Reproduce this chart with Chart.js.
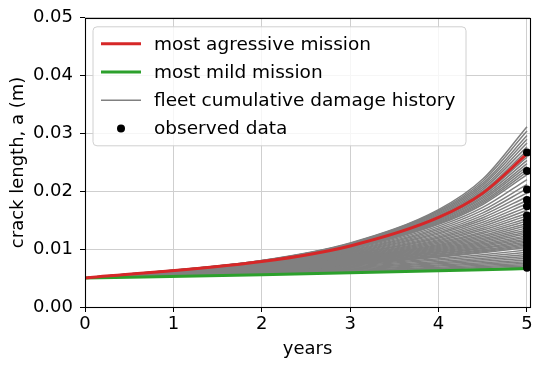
<!DOCTYPE html>
<html><head><meta charset="utf-8">
<script src="https://cdn.jsdelivr.net/npm/chart.js@4.4.0/dist/chart.umd.min.js"></script>
<style>html,body{margin:0;padding:0;background:#fff;} canvas{display:block;}</style>
</head><body>
<canvas id="c" width="544" height="368"></canvas>
<script>
const years = [0, 2, 3, 4, 4.5, 5];
const aggressiveMission = [0.00502, 0.00785, 0.01056, 0.01548, 0.01969, 0.02647];
const mildMission = [0.00502, 0.00558, 0.00590, 0.00625, 0.00644, 0.00664];
const fleetHistories = [
  [0.00502,0.00805,0.01107,0.01684,0.02212,0.03118],
  [0.00502,0.00802,0.01100,0.01664,0.02175,0.03041],
  [0.00502,0.00799,0.01092,0.01643,0.02137,0.02964],
  [0.00502,0.00796,0.01085,0.01622,0.02102,0.02899],
  [0.00502,0.00794,0.01077,0.01603,0.02068,0.02834],
  [0.00502,0.00791,0.01070,0.01585,0.02035,0.02768],
  [0.00502,0.00788,0.01063,0.01566,0.02002,0.02703],
  [0.00502,0.00782,0.01050,0.01529,0.01940,0.02592],
  [0.00502,0.00779,0.01043,0.01512,0.01910,0.02536],
  [0.00502,0.00777,0.01036,0.01495,0.01881,0.02480],
  [0.00502,0.00774,0.01029,0.01478,0.01852,0.02432],
  [0.00502,0.00772,0.01023,0.01461,0.01825,0.02384],
  [0.00502,0.00769,0.01016,0.01444,0.01799,0.02336],
  [0.00502,0.00766,0.01010,0.01429,0.01772,0.02288],
  [0.00502,0.00761,0.00997,0.01398,0.01721,0.02204],
  [0.00502,0.00756,0.00984,0.01368,0.01674,0.02120],
  [0.00502,0.00751,0.00972,0.01340,0.01627,0.02046],
  [0.00502,0.00746,0.00961,0.01312,0.01585,0.01972],
  [0.00502,0.00741,0.00949,0.01285,0.01543,0.01907],
  [0.00502,0.00736,0.00938,0.01260,0.01504,0.01842],
  [0.00502,0.00731,0.00927,0.01234,0.01465,0.01784],
  [0.00502,0.00726,0.00915,0.01211,0.01429,0.01726],
  [0.00502,0.00721,0.00905,0.01188,0.01395,0.01674],
  [0.00502,0.00717,0.00894,0.01165,0.01361,0.01622],
  [0.00502,0.00712,0.00884,0.01144,0.01330,0.01576],
  [0.00502,0.00707,0.00873,0.01122,0.01298,0.01529],
  [0.00502,0.00703,0.00863,0.01102,0.01269,0.01487],
  [0.00502,0.00698,0.00854,0.01082,0.01240,0.01444],
  [0.00502,0.00694,0.00844,0.01063,0.01214,0.01406],
  [0.00502,0.00689,0.00835,0.01045,0.01188,0.01368],
  [0.00502,0.00685,0.00826,0.01027,0.01163,0.01333],
  [0.00502,0.00681,0.00817,0.01010,0.01138,0.01298],
  [0.00502,0.00677,0.00808,0.00993,0.01115,0.01266],
  [0.00502,0.00672,0.00799,0.00976,0.01092,0.01234],
  [0.00502,0.00668,0.00791,0.00961,0.01070,0.01205],
  [0.00502,0.00664,0.00782,0.00945,0.01050,0.01176],
  [0.00502,0.00660,0.00774,0.00930,0.01029,0.01149],
  [0.00502,0.00656,0.00766,0.00915,0.01010,0.01122],
  [0.00502,0.00652,0.00759,0.00901,0.00990,0.01097],
  [0.00502,0.00648,0.00751,0.00887,0.00972,0.01072],
  [0.00502,0.00644,0.00744,0.00873,0.00955,0.01050],
  [0.00502,0.00640,0.00736,0.00860,0.00938,0.01027],
  [0.00502,0.00633,0.00721,0.00835,0.00905,0.00984],
  [0.00502,0.00625,0.00707,0.00811,0.00873,0.00945],
  [0.00502,0.00618,0.00694,0.00788,0.00844,0.00908],
  [0.00502,0.00611,0.00681,0.00766,0.00817,0.00873],
  [0.00502,0.00604,0.00668,0.00746,0.00791,0.00841],
  [0.00502,0.00597,0.00656,0.00726,0.00766,0.00811],
  [0.00502,0.00590,0.00644,0.00707,0.00744,0.00782],
  [0.00502,0.00583,0.00633,0.00689,0.00721,0.00756],
  [0.00502,0.00576,0.00621,0.00672,0.00700,0.00731],
  [0.00502,0.00570,0.00611,0.00656,0.00681,0.00707],
  [0.00502,0.00564,0.00600,0.00640,0.00662,0.00685]
];
const observedYear = 5;
const observedData = [0.0267, 0.0235, 0.0203, 0.0185, 0.0174, 0.0158, 0.0150, 0.0143, 0.0136, 0.0130, 0.0124, 0.0118, 0.0112, 0.0106, 0.0100, 0.0095, 0.0090, 0.0085, 0.0080, 0.0076, 0.0072, 0.0068];
const xTickValues = [0, 1, 2, 3, 4, 5];
const yTickValues = [0.00, 0.01, 0.02, 0.03, 0.04, 0.05];
const legendLabels = ['most agressive mission', 'most mild mission', 'fleet cumulative damage history', 'observed data'];
const xTitle = 'years';
const yTitle = 'crack length, a (m)';

const FONT = 'DejaVu Sans';
const FS = 18;
const LFS = 18.5;
const RED = '#d62728', GREEN = '#2ca02c', GRAY = '#808080';
const toPts = vals => vals.map((v, i) => ({x: years[i], y: v}));

const datasets = [];
fleetHistories.forEach(h => datasets.push({
  data: toPts(h), borderColor: GRAY, borderWidth: 1.5, pointRadius: 0,
  cubicInterpolationMode: 'monotone', fill: false, order: 3
}));
datasets.push({data: toPts(mildMission), borderColor: GREEN, borderWidth: 3, pointRadius: 0,
  cubicInterpolationMode: 'monotone', fill: false, order: 2});
datasets.push({data: toPts(aggressiveMission), borderColor: RED, borderWidth: 3, pointRadius: 0,
  cubicInterpolationMode: 'monotone', fill: false, order: 1});
datasets.push({type: 'scatter', data: observedData.map(v => ({x: observedYear, y: v})),
  backgroundColor: '#000', borderColor: '#000', pointRadius: 4, borderWidth: 0,
  showLine: false, clip: false, order: 0});

const framePlugin = {
  id: 'frame',
  afterDatasetsDraw(chart) {
    const {ctx, chartArea: a} = chart;
    ctx.save();
    ctx.strokeStyle = '#000';
    ctx.lineWidth = 1.1;
    ctx.strokeRect(Math.round(a.left) + 0.5, Math.round(a.top) + 0.5,
      Math.round(a.right - a.left), Math.round(a.bottom - a.top));
    ctx.restore();
  }
};

const legendPlugin = {
  id: 'mplLegend',
  afterDraw(chart) {
    const {ctx, chartArea: a} = chart;
    const x0 = a.left + 8, y0 = a.top + 9, w = 373, h = 119, r = 4;
    ctx.save();
    ctx.beginPath();
    ctx.moveTo(x0 + r, y0);
    ctx.lineTo(x0 + w - r, y0); ctx.quadraticCurveTo(x0 + w, y0, x0 + w, y0 + r);
    ctx.lineTo(x0 + w, y0 + h - r); ctx.quadraticCurveTo(x0 + w, y0 + h, x0 + w - r, y0 + h);
    ctx.lineTo(x0 + r, y0 + h); ctx.quadraticCurveTo(x0, y0 + h, x0, y0 + h - r);
    ctx.lineTo(x0, y0 + r); ctx.quadraticCurveTo(x0, y0, x0 + r, y0);
    ctx.closePath();
    ctx.fillStyle = 'rgba(255,255,255,0.8)';
    ctx.fill();
    ctx.strokeStyle = '#d0d0d0';
    ctx.lineWidth = 1;
    ctx.stroke();
    const styles = [
      {kind: 'line', color: RED, width: 3},
      {kind: 'line', color: GREEN, width: 3},
      {kind: 'line', color: GRAY, width: 1.5},
      {kind: 'dot', color: '#000'}
    ];
    ctx.font = LFS + 'px "' + FONT + '"';
    ctx.textBaseline = 'middle';
    ctx.textAlign = 'left';
    legendLabels.forEach((lab, i) => {
      const cy = y0 + 17 + i * 28.2;
      const s = styles[i];
      if (s.kind === 'line') {
        ctx.strokeStyle = s.color; ctx.lineWidth = s.width;
        ctx.beginPath(); ctx.moveTo(x0 + 8, cy); ctx.lineTo(x0 + 48, cy); ctx.stroke();
      } else {
        ctx.fillStyle = s.color;
        ctx.beginPath(); ctx.arc(x0 + 28, cy, 4, 0, Math.PI * 2); ctx.fill();
      }
      ctx.fillStyle = '#000';
      ctx.fillText(lab, x0 + 61, cy + 1);
    });
    ctx.restore();
  }
};

new Chart(document.getElementById('c'), {
  type: 'line',
  data: {datasets},
  plugins: [framePlugin, legendPlugin],
  options: {
    responsive: false,
    animation: false,
    devicePixelRatio: 1,
    layout: {padding: {left: 0, right: 14, top: 16, bottom: 0}},
    plugins: {legend: {display: false}, tooltip: {enabled: false}},
    scales: {
      x: {
        type: 'linear', min: 0, max: 5.034,
        afterBuildTicks: s => { s.ticks = xTickValues.map(v => ({value: v})); },
        afterFit: s => { s.height = 61; },
        ticks: {includeBounds: false, color: '#000', font: {family: FONT, size: FS}, padding: 2,
          callback: v => String(v)},
        grid: {color: '#cfcfcf', lineWidth: 1, tickColor: '#000', tickLength: 5},
        border: {display: false},
        title: {display: true, text: xTitle, color: '#000', font: {family: FONT, size: FS}, padding: {top: 0, bottom: 8}}
      },
      y: {
        type: 'linear', min: 0, max: 0.05,
        afterBuildTicks: s => { s.ticks = yTickValues.map(v => ({value: v})); },
        afterFit: s => { s.width = 85; },
        ticks: {includeBounds: false, color: '#000', font: {family: FONT, size: FS}, padding: 7,
          callback: v => Number(v).toFixed(2)},
        grid: {color: '#cfcfcf', lineWidth: 1, tickColor: '#000', tickLength: 5},
        border: {display: false},
        title: {display: true, text: yTitle, color: '#000', font: {family: FONT, size: FS}, padding: {top: 8, bottom: 0}}
      }
    }
  }
});
</script>
</body></html>
